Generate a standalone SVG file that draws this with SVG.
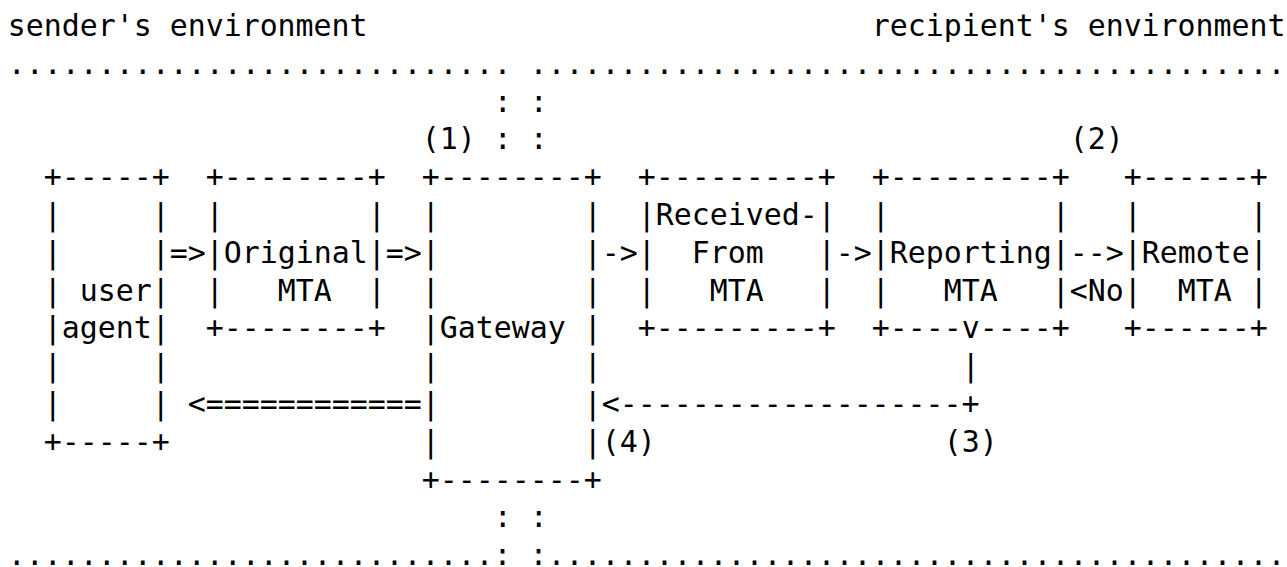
<svg xmlns="http://www.w3.org/2000/svg" width="1287" height="567" viewBox="0 0 1287 567" xml:space="preserve">
<style>
text { font-family: "DejaVu Sans Mono", "Liberation Mono", monospace; font-size: 29.9px; fill: #000; white-space: pre; }
</style>
<rect x="0" y="0" width="1287" height="567" fill="#fff"/>
<g id="environments">
<text x="7.7" y="36">sender's environment</text>
<text x="871.7" y="36">recipient's environment</text>
<text x="7.7" y="73.8">............................ ..........................................</text>
<text x="493.7" y="111.6">: :</text>
<text x="493.7" y="149.4">: :</text>
<text x="493.7" y="527.4">: :</text>
<text x="7.7" y="565.2">...........................: :.........................................</text>
</g>
<g id="user-agent">
<text x="43.7" y="187.2">+-----+</text>
<text x="43.7" y="225">|     |</text>
<text x="43.7" y="262.8">|     |</text>
<text x="43.7" y="300.6">| user|</text>
<text x="43.7" y="338.4">|agent|</text>
<text x="43.7" y="376.2">|     |</text>
<text x="43.7" y="414">|     |</text>
<text x="43.7" y="451.8">+-----+</text>
</g>
<g id="original-mta">
<text x="205.7" y="187.2">+--------+</text>
<text x="205.7" y="225">|        |</text>
<text x="205.7" y="262.8">|Original|</text>
<text x="205.7" y="300.6">|   MTA  |</text>
<text x="205.7" y="338.4">+--------+</text>
</g>
<g id="gateway">
<text x="421.7" y="187.2">+--------+</text>
<text x="421.7" y="225">|        |</text>
<text x="421.7" y="262.8">|        |</text>
<text x="421.7" y="300.6">|        |</text>
<text x="421.7" y="338.4">|Gateway |</text>
<text x="421.7" y="376.2">|        |</text>
<text x="421.7" y="414">|        |</text>
<text x="421.7" y="451.8">|        |</text>
<text x="421.7" y="489.6">+--------+</text>
</g>
<g id="received-from-mta">
<text x="637.7" y="187.2">+---------+</text>
<text x="637.7" y="225">|Received-|</text>
<text x="637.7" y="262.8">|  From   |</text>
<text x="637.7" y="300.6">|   MTA   |</text>
<text x="637.7" y="338.4">+---------+</text>
</g>
<g id="reporting-mta">
<text x="871.7" y="187.2">+---------+</text>
<text x="871.7" y="225">|         |</text>
<text x="871.7" y="262.8">|Reporting|</text>
<text x="871.7" y="300.6">|   MTA   |</text>
<text x="871.7" y="338.4">+----</text>
<text x="979.7" y="338.4">----+</text>
</g>
<g id="remote-mta">
<text x="1123.7" y="187.2">+------+</text>
<text x="1123.7" y="225">|      |</text>
<text x="1123.7" y="262.8">|Remote|</text>
<text x="1123.7" y="300.6">|  MTA |</text>
<text x="1123.7" y="338.4">+------+</text>
</g>
<g id="connectors">
<text x="169.7" y="262.8">=&gt;</text>
<text x="385.7" y="262.8">=&gt;</text>
<text x="601.7" y="262.8">-&gt;</text>
<text x="835.7" y="262.8">-&gt;</text>
<text x="1069.7" y="262.8">--&gt;</text>
<text x="1069.7" y="300.6">&lt;No</text>
<text x="961.7" y="338.4">v</text>
<text x="961.7" y="376.2">|</text>
<text x="187.7" y="414">&lt;============</text>
<text x="601.7" y="414">&lt;-------------------+</text>
</g>
<g id="labels">
<text x="421.7" y="149.4">(1)</text>
<text x="1069.7" y="149.4">(2)</text>
<text x="601.7" y="451.8">(4)</text>
<text x="943.7" y="451.8">(3)</text>
</g>
</svg>
